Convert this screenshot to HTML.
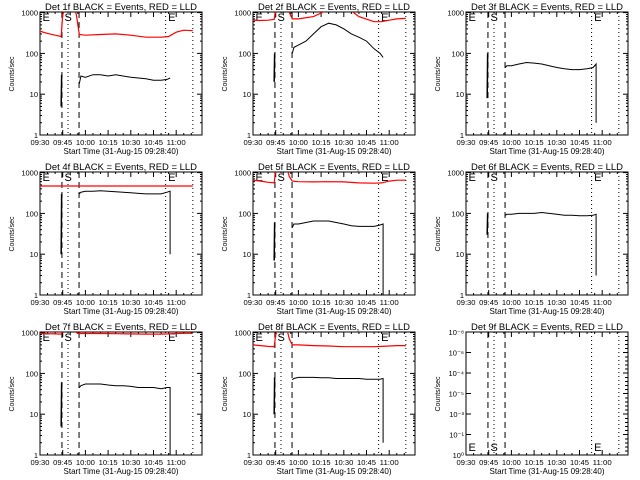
<!DOCTYPE html>
<html><head><meta charset="utf-8"><style>
html,body{margin:0;padding:0;background:#fff;}
svg{display:block;font-family:"Liberation Sans",sans-serif;}
</style></head><body>
<svg id="c" width="640" height="480" viewBox="0 0 640 480" xmlns="http://www.w3.org/2000/svg"></svg>
<script>
// time in minutes after 09:30
const xTickLabels = ["09:30","09:45","10:00","10:15","10:30","10:45","11:00"];
const xTickMinutes = [0,15,30,45,60,75,90];
const panelTitles = ["Det 1f","Det 2f","Det 3f","Det 4f","Det 5f","Det 6f","Det 7f","Det 8f","Det 9f"];
const redT = [0,5,10,14,15,18,22,24,26,30,40,50,60,70,80,85,90,95,101];
const red1 = [350,310,280,260,900,1500,1500,900,290,280,290,300,280,250,250,260,330,370,360];
const red2 = [650,640,650,680,1200,3000,2500,1000,700,700,800,1200,1500,800,600,600,650,700,720];
const red4 = [470,470,470,470,470,470,470,470,470,470,470,470,470,470,470,470,470,470,470];
const red5 = [650,620,580,560,1200,1500,1500,800,620,600,590,600,590,560,550,560,620,650,650];
const red7 = [950,940,930,920,1100,1500,1400,1000,950,950,950,940,930,920,920,930,950,960,960];
const red8 = [500,480,460,450,900,1500,1400,700,500,500,480,470,450,450,450,460,470,480,480];
const blackT = [26,27,30,35,40,45,50,55,60,65,70,75,80,84,86];
const black1 = [18,28,26,30,30,28,30,28,26,25,24,22,22,23,25];
const black2 = [100,140,160,200,300,450,550,500,400,300,250,200,130,100,80];
const black3 = [45,50,50,55,60,58,55,50,45,42,40,40,42,45,55];
const black4 = [300,330,350,350,360,350,340,330,320,310,300,300,300,330,350];
const black5 = [45,55,55,60,65,65,65,60,55,50,48,48,48,52,55];
const black6 = [90,95,95,100,100,100,105,100,95,90,90,88,88,90,95];
const black7 = [45,50,55,55,55,52,50,50,48,45,45,45,42,45,45];
const black8 = [70,75,80,80,80,78,78,75,75,75,75,72,72,72,75];
const redSeries = [red1,red2,null,red4,red5,null,red7,red8,null];
const blackSeries = [black1,black2,black3,black4,black5,black6,black7,black8,null];
const spikeLo = [5,20,8,10,7,30,5,10,null];
const spikeHi = [30,100,100,300,60,100,60,80,null];
const endDrop = [null,null,2,10,1,3,1,2,null];
const yDecades = [1,10,100,1000];
const yLabels9 = ["10\u2070","10\u207B\u00B9","10\u207B\u00B3","10\u207B\u2075","10\u207B\u2074","10\u207B\u2076","10\u207B\u2078"];

const NS="http://www.w3.org/2000/svg";
const svg=document.getElementById('c');
function mk(tag,attrs,parent){const e=document.createElementNS(NS,tag);for(const k in attrs)e.setAttribute(k,attrs[k]);(parent||svg).appendChild(e);return e;}
const BX0=40,BX1=202,BY0=12,BY1=135;
function X(t){return BX0+t*22.7/15;}
function Y(v){return BY1-Math.log10(v)*40.8;}

for(let p=0;p<9;p++){
  const ox=(p%3)*213, oy=Math.floor(p/3)*160;
  const g=mk('g',{transform:`translate(${ox},${oy})`});
  
  
  const tt=mk('text',{x:121,y:10,'font-size':9.5,'text-anchor':'middle',fill:'#000',textLength:152,lengthAdjust:'spacingAndGlyphs'},g);
  tt.textContent=panelTitles[p]+" BLACK = Events, RED = LLD";
  
  
  const box=mk('rect',{x:BX0,y:BY0,width:BX1-BX0,height:BY1-BY0,fill:'none',stroke:'#000','stroke-width':1},g);
  
  
  xTickMinutes.forEach((m,i)=>{
    const x=X(m);
    mk('line',{x1:x,y1:BY1,x2:x,y2:BY1-5,stroke:'#000'},g);
    mk('line',{x1:x,y1:BY0,x2:x,y2:BY0+5,stroke:'#000'},g);
    for(let k=1;k<3;k++){const xm=X(m+k*5);if(xm<BX1){mk('line',{x1:xm,y1:BY1,x2:xm,y2:BY1-2,stroke:'#000'},g);mk('line',{x1:xm,y1:BY0,x2:xm,y2:BY0+2,stroke:'#000'},g);}}
    const tl=mk('text',{x:x,y:BY1+10,'font-size':7.5,'text-anchor':'middle',textLength:19,lengthAdjust:'spacingAndGlyphs'},g);
    tl.textContent=xTickLabels[i];
    
    
  });
  const xt=mk('text',{x:121,y:BY1+19,'font-size':8.5,'text-anchor':'middle',textLength:115,lengthAdjust:'spacingAndGlyphs'},g);
  xt.textContent="Start Time (31-Aug-15 09:28:40)";
  
  
  const yt=mk('text',{x:0,y:0,'font-size':7,'text-anchor':'middle',transform:`translate(14,74) rotate(-90)`},g);
  yt.textContent="Counts/sec";
  
  
  if(p<8){
    yDecades.forEach(d=>{
      const y=Y(d);
      mk('line',{x1:BX0,y1:y,x2:BX0+5,y2:y,stroke:'#000'},g);
      mk('line',{x1:BX1,y1:y,x2:BX1-5,y2:y,stroke:'#000'},g);
      const yl=mk('text',{x:BX0-2,y:y+3,'font-size':7.5,'text-anchor':'end'},g);
      yl.textContent=String(d);
      
      
      if(d<1000)for(let k=2;k<10;k++){const ym=Y(d*k);mk('line',{x1:BX0,y1:ym,x2:BX0+2,y2:ym,stroke:'#000'},g);mk('line',{x1:BX1,y1:ym,x2:BX1-2,y2:ym,stroke:'#000'},g);}
    });
  } else {
    yLabels9.forEach((lab,i)=>{
      const y=BY1-i*(BY1-BY0)/6;
      mk('line',{x1:BX0,y1:y,x2:BX0+5,y2:y,stroke:'#000'},g);
      mk('line',{x1:BX1,y1:y,x2:BX1-5,y2:y,stroke:'#000'},g);
      for(let k=1;k<5;k++){const ym=y-k*4;if(ym>BY0)mk('line',{x1:BX1,y1:ym,x2:BX1-3,y2:ym,stroke:'#000'},g);}
      const yl=mk('text',{x:BX0-2,y:y+3,'font-size':7.5,'text-anchor':'end'},g);
      yl.textContent=lab;
      
      
    });
  }
  [[14.5,'6,4'],[25.8,'6,4']].forEach(([t,d])=>{const l=mk('line',{x1:X(t),y1:BY0,x2:X(t),y2:BY1,stroke:'#000','stroke-dasharray':d},g);});
  [18.5,83,101].forEach(t=>{const l=mk('line',{x1:X(t),y1:BY0,x2:X(t),y2:BY1,stroke:'#000','stroke-dasharray':'1,3'},g);});
  const ly=(p===8)?BY1-4:BY0+9;
  [["E",1],["S",15.5],["E",84]].forEach(([s,t])=>{const e=mk('text',{x:X(t)+1,y:ly,'font-size':11},g);e.textContent=s;});
  const defs=mk('clipPath',{id:'cl'+p},g);mk('rect',{x:BX0,y:BY0,width:BX1-BX0,height:BY1-BY0},defs);
  const r=redSeries[p];
  if(r){
    const d=r.map((v,i)=>(i?'L':'M')+X(redT[i]).toFixed(1)+','+Y(v).toFixed(1)).join('');
    const pl=mk('path',{d:d,fill:'none',stroke:'#f00','stroke-width':1.2,'clip-path':`url(#cl${p})`},g);
    
    
  }
  const b=blackSeries[p];
  if(b){
    let d=b.map((v,i)=>(i?'L':'M')+X(blackT[i]).toFixed(1)+','+Y(v).toFixed(1)).join('');
    if(endDrop[p]!=null){d+='L'+X(blackT[blackT.length-1]).toFixed(1)+','+Y(endDrop[p]).toFixed(1);}
    const bl=mk('path',{d:d,fill:'none',stroke:'#000','stroke-width':1},g);
    
    
    const sp=mk('line',{x1:X(14),y1:Y(spikeLo[p]),x2:X(14.3),y2:Y(spikeHi[p]),stroke:'#000','stroke-width':1.5},g);
    
    
  }
}
</script>
</body></html>
